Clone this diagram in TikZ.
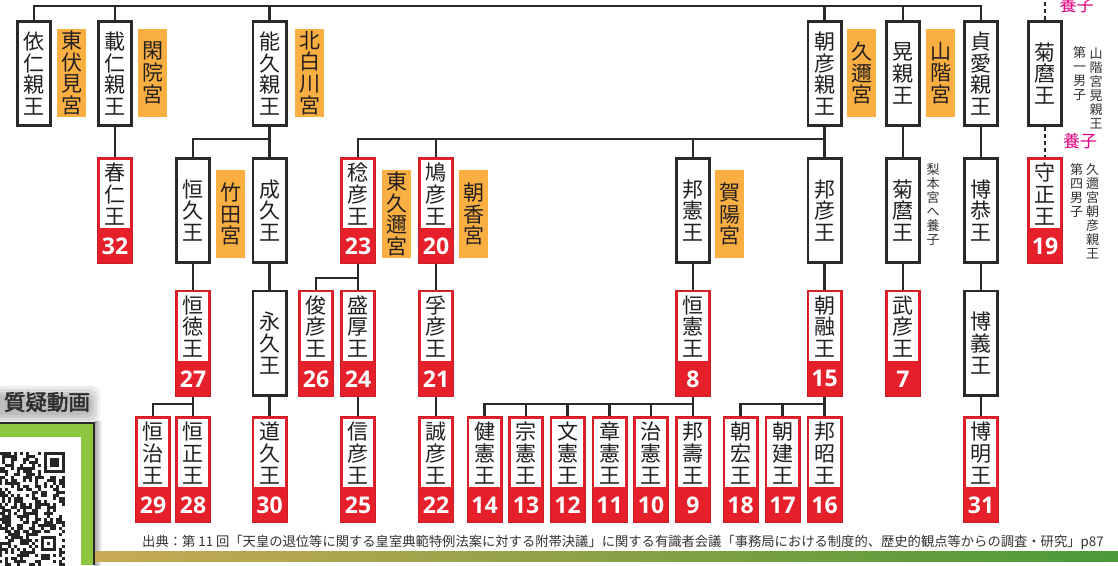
\documentclass[tikz,border=0pt]{standalone}
\usepackage{fontspec}
\setmainfont{Noto Sans CJK JP}
\newfontfamily\numfont{Open Sans}
\newfontfamily\boldcjk[FakeBold=2.5]{Noto Sans CJK JP}
\usetikzlibrary{calc}
\definecolor{linec}{HTML}{2B2829}
\definecolor{txtc}{HTML}{231F20}
\definecolor{redc}{HTML}{E6202A}
\definecolor{redb}{HTML}{C81E28}
\definecolor{orangec}{HTML}{F9AF42}
\definecolor{magc}{HTML}{E4007F}
\definecolor{greenc}{HTML}{8DC63F}
\definecolor{barL}{HTML}{C9A955}
\definecolor{barM}{HTML}{95A548}
\definecolor{barR}{HTML}{4A9A38}
\definecolor{notec}{HTML}{333333}
\newcommand\bigcjk{\fontsize{21}{21.7}\selectfont}
\newcommand\smallcjk{\fontsize{13}{14}\selectfont}
\tikzset{
  ln/.style={line width=2.6pt, draw=linec},
  adopt/.style={line width=2.6pt, draw=linec, dash pattern=on 4pt off 3pt},
  bk/.style={draw=linec, line width=2.8pt, fill=white, minimum width=33.2pt, minimum height=104.2pt, inner sep=0pt, font=\bigcjk, align=center, text=txtc},
  rk/.style={draw=redb, line width=0.8pt, fill=redc, minimum width=35.2pt, minimum height=106.2pt, inner sep=0pt},
  rt/.style={inner sep=0pt, font=\bigcjk, align=center, text=txtc},
  nm/.style={inner sep=0pt, font=\numfont\bfseries\fontsize{23}{23}\selectfont, text=white},
  og/.style={fill=orangec, minimum width=29pt, minimum height=88pt, inner sep=0pt, font=\bigcjk, align=center, text=txtc},
  note/.style={inner sep=0pt, font=\smallcjk, align=center, text=notec, anchor=north},
  yoshi/.style={inner sep=0pt, font=\fontsize{17}{17}\selectfont, text=magc},
  cite/.style={inner sep=0pt, font=\fontsize{13.3}{14}\selectfont, text=notec, anchor=west},
  qlabel/.style={inner sep=0pt, font=\boldcjk\fontsize{21.5}{21.5}\selectfont, text=black!82},
  glow/.style={fill=black, opacity=0.07, rounded corners=8pt},
}
\newcommand\BK[4]{\node[bk] (#1) at (#2,#3+53.5) {#4};}
\newcommand\RK[5]{%
  \node[rk] (#1) at (#2,#3+53.5) {};
  \fill[white] (#2-15.2,#3+2.8) rectangle (#2+15.2,#3+71);
  \node[rt] (#1t) at (#2,#3+36.9) {#4};
  \node[nm] (#1n) at (#2,#3+89.3) {#5};}
\newcommand\OG[4]{\node[og] (#1) at (#2,#3) {#4};}
\begin{document}
\begin{tikzpicture}[x=1pt,y=-1pt]
\useasboundingbox (0,0) rectangle (1118,565);
\fill[white] (0,0) rectangle (1118,565);

% ---- QR panel
\shade[left color=black!35, right color=white] (94.5,421) rectangle (102,565);
\fill[glow] (-10,386) rectangle (100,424);
\fill[glow] (-10,389) rectangle (97,421);
\fill[glow] (-10,392) rectangle (94,418);
\fill[glow] (-10,395) rectangle (92,415);
\fill[linec] (0,421.5) rectangle (95,565);
\fill[greenc] (0,424) rectangle (92.5,565);
\fill[white] (0,437) rectangle (81,565);
\begin{scope}
\clip (0,437) rectangle (81,565);
\pgfmathsetseed{11}
\foreach \i in {0,...,21}{\foreach \j in {0,...,37}{%
  \pgfmathrandominteger{\qrr}{0}{99}%
  \ifnum\qrr<50 \fill[black!85] (62-3*\i,452+3*\j) rectangle ++(3,3);\fi}}
\fill[white] (41,452) rectangle (65,476);
\fill[black!85] (44,452) rectangle (65,473);
\fill[white] (47,455) rectangle (62,470);
\fill[black!85] (50,458) rectangle (59,467);
\fill[white] (38,533) rectangle (59,554);
\fill[black!85] (41,536) rectangle (56,551);
\fill[white] (44,539) rectangle (53,548);
\fill[black!85] (47,542) rectangle (50,545);
\end{scope}
\node[qlabel] (ql) at (47,402) {質疑動画};

% ---- bottom bar and source
\shade[left color=barL, middle color=barM, right color=barR] (95,551) rectangle (1118,561);
\node[cite] (src) at (142,542.5) {出典：第 11 回「天皇の退位等に関する皇室典範特例法案に対する附帯決議」に関する有識者会議「事務局における制度的、歴史的観点等からの調査・研究」p87};

% ---- row 1
\BK{a1}{34}{20}{依\\仁\\親\\王}
\BK{a2}{115}{20}{載\\仁\\親\\王}
\BK{a3}{269.5}{20}{能\\久\\親\\王}
\BK{a4}{824.5}{20}{朝\\彦\\親\\王}
\BK{a5}{903}{20}{晃\\親\\王}
\BK{a6}{981}{20}{貞\\愛\\親\\王}
\BK{a7}{1045}{20}{菊\\麿\\王}
\OG{o1}{71.5}{73}{東\\伏\\見\\宮}
\OG{o2}{152.5}{73}{閑\\院\\宮}
\OG{o3}{309.5}{73}{北\\白\\川\\宮}
\OG{o4}{861.5}{73}{久\\邇\\宮}
\OG{o5}{940.5}{73}{山\\階\\宮}

% ---- row 2
\RK{b1}{115}{157}{春\\仁\\王}{32}
\BK{b2}{193}{157}{恒\\久\\王}
\BK{b3}{269.5}{157}{成\\久\\王}
\RK{b4}{358}{157}{稔\\彦\\王}{23}
\RK{b5}{436}{157}{鳩\\彦\\王}{20}
\BK{b6}{693}{157}{邦\\憲\\王}
\BK{b7}{824.5}{157}{邦\\彦\\王}
\BK{b8}{903}{157}{菊\\麿\\王}
\BK{b9}{981}{157}{博\\恭\\王}
\RK{b10}{1045}{157}{守\\正\\王}{19}
\OG{o6}{230.5}{214}{竹\\田\\宮}
\OG{o7}{396.5}{214}{東\\久\\邇\\宮}
\OG{o8}{473.5}{214}{朝\\香\\宮}
\OG{o9}{729.5}{214}{賀\\陽\\宮}

% ---- row 3
\RK{c1}{193}{289.5}{恒\\徳\\王}{27}
\BK{c2}{269.5}{289.5}{永\\久\\王}
\RK{c3}{316}{289.5}{俊\\彦\\王}{26}
\RK{c4}{358}{289.5}{盛\\厚\\王}{24}
\RK{c5}{436}{289.5}{孚\\彦\\王}{21}
\RK{c6}{693}{289.5}{恒\\憲\\王}{8}
\RK{c7}{824.5}{289.5}{朝\\融\\王}{15}
\RK{c8}{903}{289.5}{武\\彦\\王}{7}
\BK{c9}{981}{289.5}{博\\義\\王}

% ---- row 4
\RK{d1}{153}{416}{恒\\治\\王}{29}
\RK{d2}{193}{416}{恒\\正\\王}{28}
\RK{d3}{269.5}{416}{道\\久\\王}{30}
\RK{d4}{358}{416}{信\\彦\\王}{25}
\RK{d5}{436}{416}{誠\\彦\\王}{22}
\RK{d6}{484.5}{416}{健\\憲\\王}{14}
\RK{d7}{526}{416}{宗\\憲\\王}{13}
\RK{d8}{567.5}{416}{文\\憲\\王}{12}
\RK{d9}{609.5}{416}{章\\憲\\王}{11}
\RK{d10}{651}{416}{治\\憲\\王}{10}
\RK{d11}{693}{416}{邦\\壽\\王}{9}
\RK{d12}{740.5}{416}{朝\\宏\\王}{18}
\RK{d13}{782.5}{416}{朝\\建\\王}{17}
\RK{d14}{824.5}{416}{邦\\昭\\王}{16}
\RK{d15}{981}{416}{博\\明\\王}{31}

% ---- notes
\node[yoshi] (y1) at (1076.5,5) {養子};
\node[yoshi] (y2) at (1080,141.5) {養子};
\node[note] (n1) at (1079.5,46) {第\\一\\男\\子};
\node[note] (n2) at (1096,48) {山\\階\\宮\\晃\\親\\王};
\node[note] (n3) at (1076.5,163) {第\\四\\男\\子};
\node[note] (n4) at (1092.5,163) {久\\邇\\宮\\朝\\彦\\親\\王};
\node[note] (n5) at (933,163) {梨\\本\\宮\\へ\\養\\子};

% ---- connectors
\draw[ln] (a1.north) -- ++(0,-14) -| (a6.north);
\foreach \n in {a2,a3,a4,a5}{\draw[ln] (\n.north) -- ++(0,-14);}
\coordinate (topend) at (1045,-2);
\draw[adopt] (a7.north) -- (topend);
\draw[adopt] (a7.south) -- (b10.north);

\draw[ln] (a2.south) -- (b1.north);
\draw[ln] (a3.south) -- (b3.north);
\draw[ln] (a3.south) ++(0,12) -| (b2.north);
\draw[ln] (a4.south) -- (b7.north);
\draw[ln] (a4.south) ++(0,12) -| (b4.north);
\draw[ln] (a4.south) ++(0,12) -| (b5.north);
\draw[ln] (a4.south) ++(0,12) -| (b6.north);
\draw[ln] (a5.south) -- (b8.north);
\draw[ln] (a6.south) -- (b9.north);

\draw[ln] (b2.south) -- (c1.north);
\draw[ln] (b3.south) -- (c2.north);
\draw[ln] (b4.south) -- (c4.north);
\draw[ln] (b4.south) ++(0,14) -| (c3.north);
\draw[ln] (b5.south) -- (c5.north);
\draw[ln] (b6.south) -- (c6.north);
\draw[ln] (b7.south) -- (c7.north);
\draw[ln] (b8.south) -- (c8.north);
\draw[ln] (b9.south) -- (c9.north);

\draw[ln] (c1.south) -- (d2.north);
\draw[ln] (c1.south) ++(0,7.5) -| (d1.north);
\draw[ln] (c2.south) -- (d3.north);
\draw[ln] (c4.south) -- (d4.north);
\draw[ln] (c5.south) -- (d5.north);
\draw[ln] (c6.south) -- (d11.north);
\foreach \n in {d6,d7,d8,d9,d10}{\draw[ln] (c6.south) ++(0,7.5) -| (\n.north);}
\draw[ln] (c7.south) -- (d14.north);
\foreach \n in {d12,d13}{\draw[ln] (c7.south) ++(0,7.5) -| (\n.north);}
\draw[ln] (c9.south) -- (d15.north);
\end{tikzpicture}
\end{document}
